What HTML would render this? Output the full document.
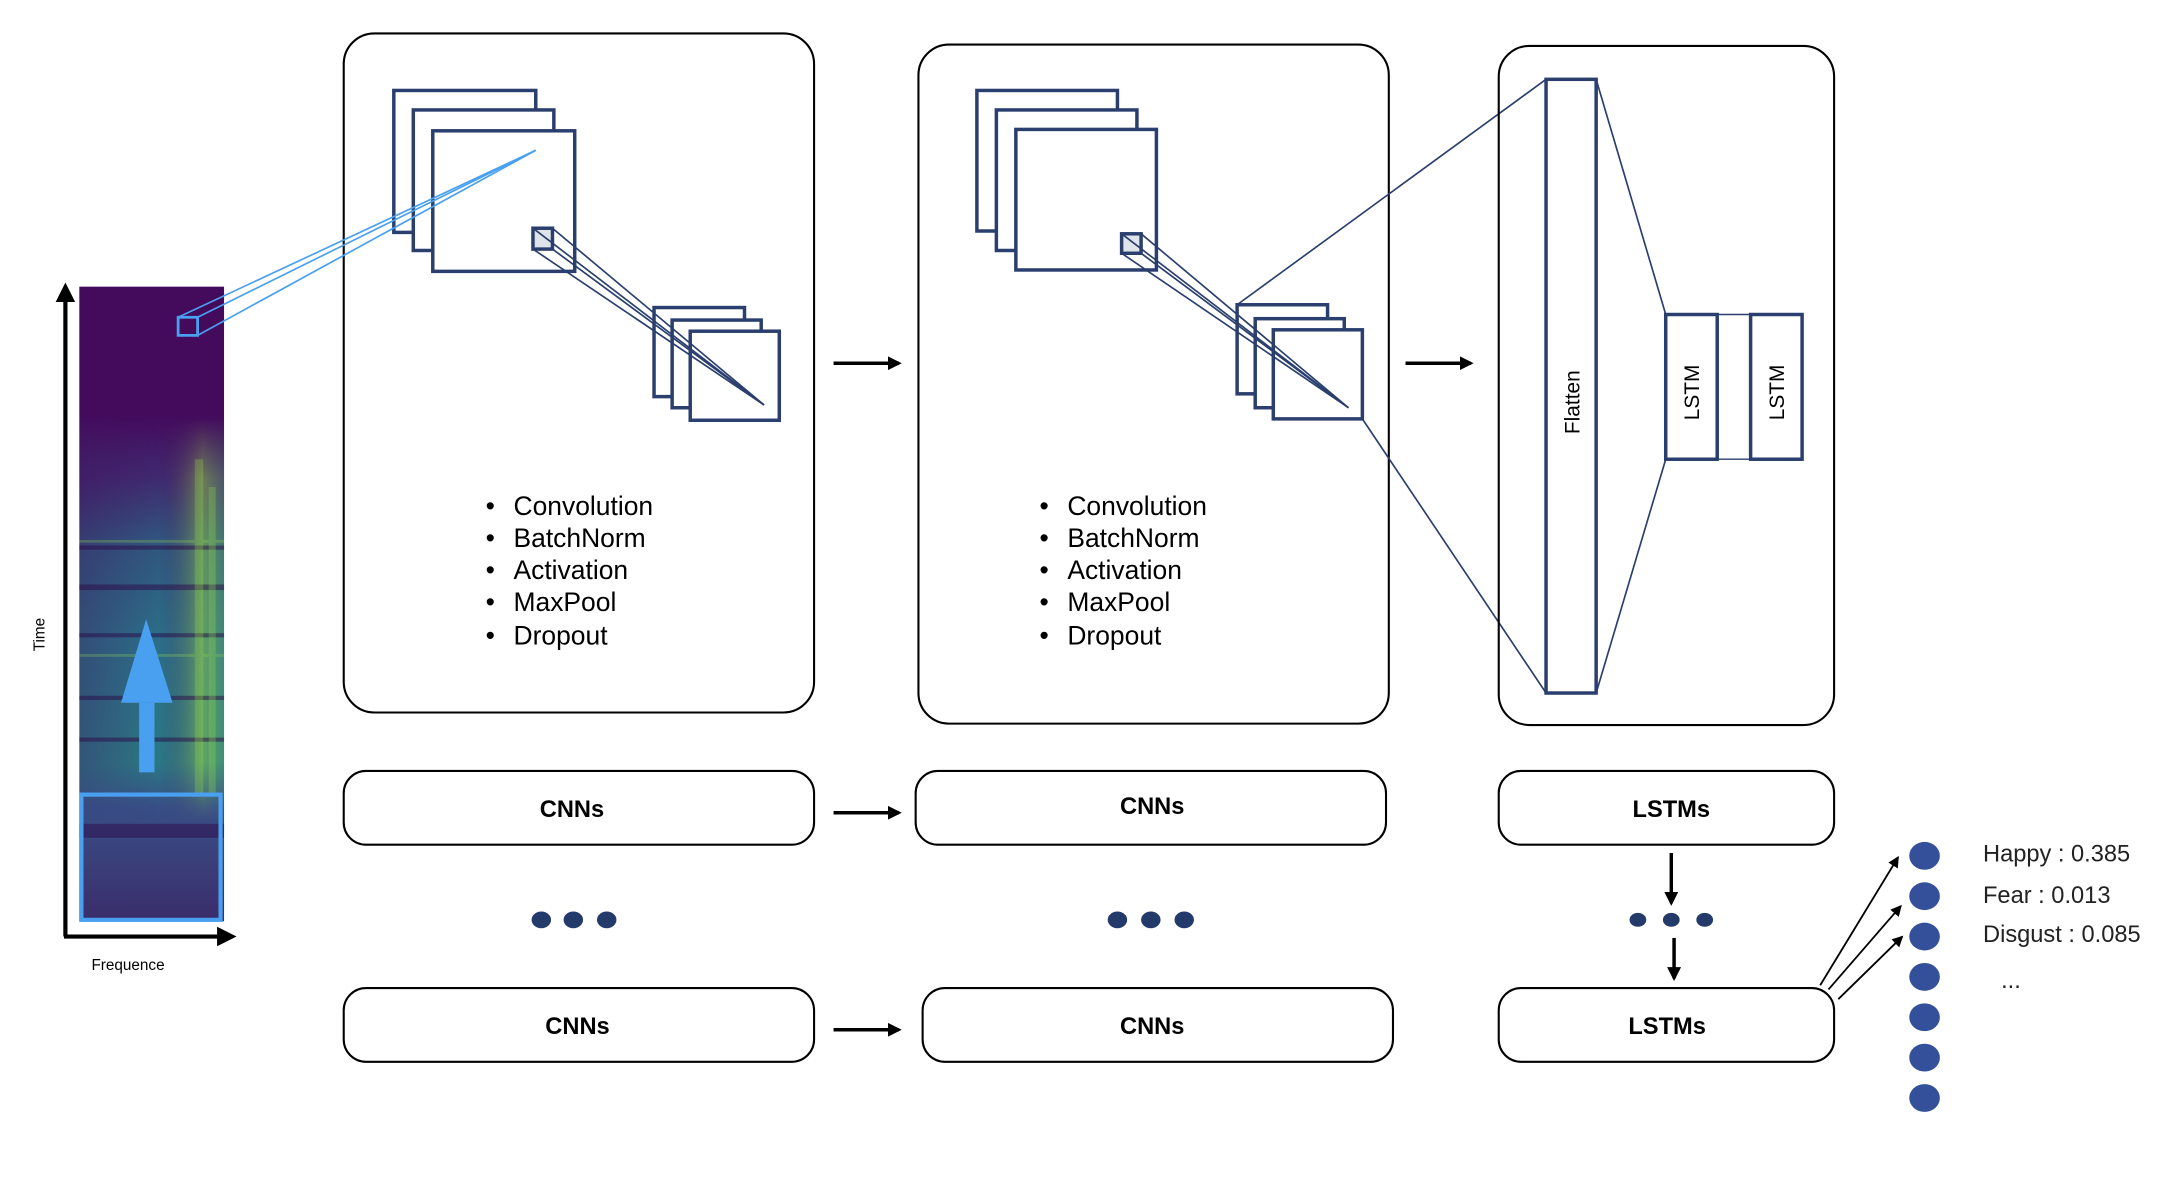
<!DOCTYPE html>
<html><head><meta charset="utf-8"><style>
html,body{margin:0;padding:0;background:#fff;}
svg{display:block;}
text{font-family:"Liberation Sans",sans-serif;}
</style></head><body>
<svg width="2182" height="1194" viewBox="0 0 1568 858" preserveAspectRatio="none" xmlns="http://www.w3.org/2000/svg">
<defs>
<linearGradient id="sp" x1="0" y1="0" x2="0" y2="1">
<stop offset="0" stop-color="#440a5c"/>
<stop offset="0.2" stop-color="#440a5c"/>
<stop offset="0.3" stop-color="#402a70"/>
<stop offset="0.4" stop-color="#31567f"/>
<stop offset="0.55" stop-color="#2c6e88"/>
<stop offset="0.75" stop-color="#2b7a86"/>
<stop offset="0.82" stop-color="#384f86"/>
<stop offset="1" stop-color="#3b2d6c"/>
</linearGradient>
<linearGradient id="sph" x1="0" y1="0" x2="1" y2="0">
<stop offset="0" stop-color="#440154" stop-opacity="0.3"/>
<stop offset="0.55" stop-color="#440154" stop-opacity="0"/>
<stop offset="0.85" stop-color="#a5db36" stop-opacity="0.45"/>
<stop offset="1" stop-color="#7ad151" stop-opacity="0.25"/>
</linearGradient>
<linearGradient id="fade" x1="0" y1="0" x2="0" y2="1">
<stop offset="0" stop-color="#fff" stop-opacity="0"/>
<stop offset="0.15" stop-color="#fff" stop-opacity="1"/>
<stop offset="0.85" stop-color="#fff" stop-opacity="1"/>
<stop offset="1" stop-color="#fff" stop-opacity="0"/>
</linearGradient>
<mask id="fm"><rect x="57" y="300" width="104" height="290" fill="url(#fade)"/></mask>
<marker id="ah" markerWidth="10" markerHeight="10" refX="8" refY="5" orient="auto" markerUnits="userSpaceOnUse"><path d="M0,0 L10,5 L0,10 z" fill="#000"/></marker>
<marker id="ah2" markerWidth="8" markerHeight="8" refX="7" refY="4" orient="auto" markerUnits="userSpaceOnUse"><path d="M0,0 L8,4 L0,8 z" fill="#000"/></marker>
</defs>

<!-- spectrogram -->
<rect x="57" y="206" width="104" height="456" fill="url(#sp)"/>
<rect x="57" y="300" width="104" height="290" fill="url(#sph)" mask="url(#fm)"/>
<g fill="#2c0a48" opacity="0.5">
<rect x="57" y="392" width="104" height="3"/><rect x="57" y="420" width="104" height="4"/>
<rect x="57" y="455" width="104" height="3"/><rect x="57" y="500" width="104" height="3"/>
<rect x="57" y="530" width="104" height="3"/><rect x="57" y="592" width="104" height="10"/>
</g>
<g fill="#8fd14f" opacity="0.3">
<rect x="57" y="388" width="104" height="2"/><rect x="57" y="470" width="104" height="2"/>
<rect x="140" y="330" width="6" height="240"/><rect x="150" y="350" width="5" height="220"/>
</g>
<rect x="58.5" y="571" width="100" height="90" fill="none" stroke="#4aa0f0" stroke-width="3"/>
<rect x="100" y="505" width="11" height="50" fill="#4aa0f0"/>
<polygon points="105,445 87,505 124,505" fill="#4aa0f0"/>
<rect x="128" y="228" width="14" height="13" fill="none" stroke="#4aa0f0" stroke-width="2"/>
<!-- axes -->
<line x1="47" y1="673" x2="47" y2="214" stroke="#000" stroke-width="3"/>
<polygon points="47,203 40,217 54,217" fill="#000"/>
<line x1="46" y1="673" x2="158" y2="673" stroke="#000" stroke-width="3"/>
<polygon points="170,673 156,666 156,680" fill="#000"/>
<text x="32" y="456" font-size="11" transform="rotate(-90 32 456)" text-anchor="middle">Time</text>
<text x="92" y="697" font-size="11" text-anchor="middle">Frequence</text>

<!-- Box 1 -->
<rect x="247" y="24" width="338" height="488" rx="22" fill="none" stroke="#000" stroke-width="1.5"/>
<g fill="#fff" stroke="#2a3f6e" stroke-width="2.5">
<rect x="283" y="65" width="102" height="102"/>
<rect x="297" y="79" width="101" height="101"/>
<rect x="311" y="94" width="102" height="101"/>
<rect x="383" y="164" width="14" height="15" fill="#dfe3ea"/>
<rect x="470" y="221" width="65" height="64"/>
<rect x="483" y="230" width="64" height="63"/>
<rect x="496" y="238" width="64" height="64"/>
</g>
<g stroke="#2a3f6e" stroke-width="1.2">
<line x1="383" y1="164" x2="549" y2="291"/><line x1="397" y1="164" x2="549" y2="291"/>
<line x1="397" y1="179" x2="549" y2="291"/><line x1="383" y1="179" x2="549" y2="291"/>
</g>
<g stroke="#4aa0f0" stroke-width="1.2">
<line x1="128" y1="228" x2="385" y2="108"/>
<line x1="142" y1="228" x2="385" y2="108"/>
<line x1="142" y1="241" x2="385" y2="108"/>
</g>
<g font-size="19">
<text x="349" y="370">•</text><text x="369" y="370">Convolution</text>
<text x="349" y="393">•</text><text x="369" y="393">BatchNorm</text>
<text x="349" y="416">•</text><text x="369" y="416">Activation</text>
<text x="349" y="439">•</text><text x="369" y="439">MaxPool</text>
<text x="349" y="463">•</text><text x="369" y="463">Dropout</text>
</g>

<!-- Box 2 -->
<rect x="660" y="32" width="338" height="488" rx="22" fill="none" stroke="#000" stroke-width="1.5"/>
<g fill="#fff" stroke="#2a3f6e" stroke-width="2.5">
<rect x="702" y="65" width="101" height="101"/>
<rect x="716" y="79" width="101" height="101"/>
<rect x="730" y="93" width="101" height="101"/>
<rect x="806" y="168" width="14" height="14" fill="#dfe3ea"/>
<rect x="889" y="219" width="65" height="64"/>
<rect x="902" y="229" width="64" height="64"/>
<rect x="915" y="237" width="64" height="64"/>
</g>
<g stroke="#2a3f6e" stroke-width="1.2">
<line x1="806" y1="168" x2="969" y2="293"/><line x1="820" y1="168" x2="969" y2="293"/>
<line x1="820" y1="182" x2="969" y2="293"/><line x1="806" y1="182" x2="969" y2="293"/>
<line x1="889" y1="219" x2="1111" y2="57"/>
<line x1="979" y1="301" x2="1111" y2="498"/>
</g>
<g font-size="19">
<text x="747" y="370">•</text><text x="767" y="370">Convolution</text>
<text x="747" y="393">•</text><text x="767" y="393">BatchNorm</text>
<text x="747" y="416">•</text><text x="767" y="416">Activation</text>
<text x="747" y="439">•</text><text x="767" y="439">MaxPool</text>
<text x="747" y="463">•</text><text x="767" y="463">Dropout</text>
</g>

<!-- Box 3 -->
<rect x="1077" y="33" width="241" height="488" rx="22" fill="none" stroke="#000" stroke-width="1.5"/>
<g fill="none" stroke="#2a3f6e">
<rect x="1111" y="57" width="36" height="441" stroke-width="2.5"/>
<rect x="1197" y="226" width="37" height="104" stroke-width="2.5"/>
<rect x="1258" y="226" width="37" height="104" stroke-width="2.5"/>
<line x1="1234" y1="226" x2="1258" y2="226" stroke-width="1"/>
<line x1="1234" y1="330" x2="1258" y2="330" stroke-width="1"/>
<line x1="1147" y1="57" x2="1197" y2="226" stroke-width="1.2"/>
<line x1="1147" y1="498" x2="1197" y2="330" stroke-width="1.2"/>
</g>
<text x="1135" y="289" font-size="15" transform="rotate(-90 1135 289)" text-anchor="middle">Flatten</text>
<text x="1221" y="282" font-size="15" transform="rotate(-90 1221 282)" text-anchor="middle">LSTM</text>
<text x="1282" y="282" font-size="15" transform="rotate(-90 1282 282)" text-anchor="middle">LSTM</text>

<g stroke="#000" stroke-width="2.5" marker-end="url(#ah)">
<line x1="599" y1="261" x2="646" y2="261"/>
<line x1="1010" y1="261" x2="1057" y2="261"/>
<line x1="599" y1="584" x2="646" y2="584"/>
<line x1="599" y1="740" x2="646" y2="740"/>
<line x1="1201" y1="613" x2="1201" y2="649"/>
<line x1="1203" y1="674" x2="1203" y2="703"/>
</g>

<g fill="none" stroke="#000" stroke-width="1.5">
<rect x="247" y="554" width="338" height="53" rx="16"/>
<rect x="658" y="554" width="338" height="53" rx="16"/>
<rect x="1077" y="554" width="241" height="53" rx="16"/>
<rect x="247" y="710" width="338" height="53" rx="16"/>
<rect x="663" y="710" width="338" height="53" rx="16"/>
<rect x="1077" y="710" width="241" height="53" rx="16"/>
</g>
<g font-size="17" font-weight="bold" text-anchor="middle">
<text x="411" y="587">CNNs</text>
<text x="828" y="585">CNNs</text>
<text x="1201" y="587">LSTMs</text>
<text x="415" y="743">CNNs</text>
<text x="828" y="743">CNNs</text>
<text x="1198" y="743">LSTMs</text>
</g>

<g fill="#233a6a">
<ellipse cx="389" cy="661" rx="7" ry="6"/><ellipse cx="412" cy="661" rx="7" ry="6"/><ellipse cx="436" cy="661" rx="7" ry="6"/>
<ellipse cx="803" cy="661" rx="7" ry="6"/><ellipse cx="827" cy="661" rx="7" ry="6"/><ellipse cx="851" cy="661" rx="7" ry="6"/>
<ellipse cx="1177" cy="661" rx="6" ry="5"/><ellipse cx="1201" cy="661" rx="6" ry="5"/><ellipse cx="1225" cy="661" rx="6" ry="5"/>
</g>

<g fill="#34509a">
<ellipse cx="1383" cy="615" rx="11" ry="10"/><ellipse cx="1383" cy="644" rx="11" ry="10"/>
<ellipse cx="1383" cy="673" rx="11" ry="10"/><ellipse cx="1383" cy="702" rx="11" ry="10"/>
<ellipse cx="1383" cy="731" rx="11" ry="10"/><ellipse cx="1383" cy="760" rx="11" ry="10"/>
<ellipse cx="1383" cy="789" rx="11" ry="10"/>
</g>
<g stroke="#000" stroke-width="1.3" marker-end="url(#ah2)">
<line x1="1308" y1="708" x2="1364" y2="616"/>
<line x1="1314" y1="711" x2="1366" y2="651"/>
<line x1="1321" y1="718" x2="1367" y2="673"/>
</g>
<g font-size="17" fill="#222">
<text x="1425" y="619">Happy : 0.385</text>
<text x="1425" y="649">Fear : 0.013</text>
<text x="1425" y="677">Disgust : 0.085</text>
<text x="1438" y="710">...</text>
</g>
</svg>
</body></html>
